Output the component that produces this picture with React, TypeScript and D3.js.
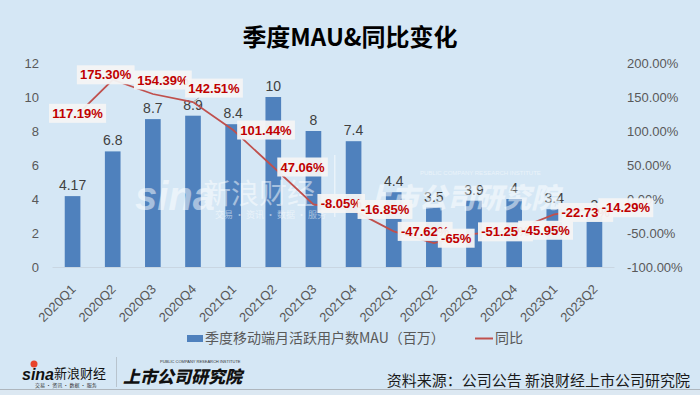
import React, { useEffect, useRef } from "react";
import * as d3 from "d3";

const quarters = [
  "2020Q1", "2020Q2", "2020Q3", "2020Q4",
  "2021Q1", "2021Q2", "2021Q3", "2021Q4",
  "2022Q1", "2022Q2", "2022Q3", "2022Q4",
  "2023Q1", "2023Q2",
];
const mau = [4.17, 6.8, 8.7, 8.9, 8.4, 10, 8, 7.4, 4.4, 3.5, 3.9, 4, 3.4, 3];
const yoy = [117.19, 175.3, 154.39, 142.51, 101.44, 47.06, -8.05, -16.85, -47.62, -65, -51.25, -45.95, -22.73, -14.29];
const leftTicks = [0, 2, 4, 6, 8, 10, 12];
const rightTicks = [-100, -50, 0, 50, 100, 150, 200];
const legendNames = ["季度移动端月活跃用户数MAU（百万）", "同比"];

// where each yoy label box sits: "c" = centred on the point, "r" = right of it; then dx, dy
const yoyLabelPos: [string, number, number][] = [
  ["c", 5, -6], ["c", -7, -5], ["c", 10, -14], ["c", 21, -14],
  ["r", 0, 0], ["r", 0, 0], ["r", 0, -1], ["r", 0, -1],
  ["r", 0, 0], ["r", 0, -5], ["r", 0, -2], ["r", 0, 0],
  ["r", 0, -2], ["r", 0, -1],
];

const W = 700, H = 395;
const numFont = "'Liberation Sans', Arial, sans-serif";
const cjkFont = "'Noto Sans CJK SC', 'Noto Sans', sans-serif";

export default function App() {
  const ref = useRef<SVGSVGElement>(null);

  useEffect(() => {
    const svg = d3.select(ref.current);
    svg.selectAll("*").remove();

    svg.append("rect").attr("width", W).attr("height", H).attr("fill", "#D5E7F5");

    // title
    svg.append("text")
      .attr("x", 350).attr("y", 46)
      .attr("text-anchor", "middle")
      .style("font-family", cjkFont).style("font-weight", 700).style("font-size", "24px")
      .attr("fill", "#000")
      .text("季度MAU&同比变化");

    const x = d3.scaleBand<string>().domain(quarters).range([52.5, 614.5]).paddingInner(0.61).paddingOuter(0.305);
    const yL = d3.scaleLinear().domain([0, 12]).range([267, 63]);
    const yR = d3.scaleLinear().domain([-100, 200]).range([267, 63]);
    const cx = (q: string) => (x(q) as number) + x.bandwidth() / 2;

    // left axis
    svg.append("g").selectAll("text").data(leftTicks).join("text")
      .attr("x", 39).attr("y", (d) => yL(d)).attr("dy", "0.35em")
      .attr("text-anchor", "end")
      .style("font-family", numFont).style("font-size", "13px").attr("fill", "#595959")
      .text((d) => d);

    // right axis
    svg.append("g").selectAll("text").data(rightTicks).join("text")
      .attr("x", 627).attr("y", (d) => yR(d)).attr("dy", "0.35em")
      .style("font-family", numFont).style("font-size", "13px").attr("fill", "#595959")
      .text((d) => d.toFixed(2) + "%");

    svg.append("line")
      .attr("x1", 52.5).attr("x2", 614.5).attr("y1", 267.5).attr("y2", 267.5)
      .attr("stroke", "#C9D6E2");

    // bars
    svg.append("g").selectAll("rect").data(mau).join("rect")
      .attr("x", (d, i) => x(quarters[i]) as number)
      .attr("y", (d) => yL(d))
      .attr("width", x.bandwidth())
      .attr("height", (d) => yL(0) - yL(d))
      .attr("fill", "#4F81BD");

    svg.append("g").selectAll("text").data(mau).join("text")
      .attr("x", (d, i) => cx(quarters[i]))
      .attr("y", (d) => yL(d) - 6)
      .attr("text-anchor", "middle")
      .style("font-family", numFont).style("font-size", "14px").attr("fill", "#404040")
      .text((d) => d);

    // category labels
    svg.append("g").selectAll("text").data(quarters).join("text")
      .attr("transform", (d) => `translate(${cx(d) + 4},290) rotate(-45)`)
      .attr("text-anchor", "end")
      .style("font-family", numFont).style("font-size", "13px").attr("fill", "#595959")
      .text((d) => d);

    // watermark
    const wm = svg.append("g").attr("fill", "#fff").attr("opacity", 0.5);
    wm.append("text").attr("x", 135).attr("y", 210)
      .style("font-family", numFont).style("font-weight", 700).style("font-style", "italic").style("font-size", "40px")
      .text("sina");
    wm.append("text").attr("x", 203).attr("y", 204)
      .style("font-family", cjkFont).style("font-size", "28px").text("新浪财经");
    wm.append("text").attr("x", 215).attr("y", 218)
      .style("font-family", cjkFont).style("font-size", "9px").text("交易 · 资讯 · 数据 · 服务");
    wm.append("rect").attr("x", 334).attr("y", 155).attr("width", 1.5).attr("height", 62);
    wm.append("text").attr("x", 363).attr("y", 208)
      .style("font-family", cjkFont).style("font-weight", 900).style("font-style", "italic").style("font-size", "28px")
      .text("上市公司研究院");
    wm.append("text").attr("x", 420).attr("y", 175)
      .style("font-family", numFont).style("font-size", "6px").text("PUBLIC COMPANY RESEARCH INSTITUTE");

    // yoy line
    const line = d3.line<number>().x((d, i) => cx(quarters[i])).y((d) => yR(d));
    svg.append("path").datum(yoy)
      .attr("d", line)
      .attr("fill", "none").attr("stroke", "#C0504D").attr("stroke-width", 1.75);

    // yoy labels
    const lab = svg.append("g");
    yoy.forEach((v, i) => {
      const px = cx(quarters[i]);
      const py = yR(v);
      const g = lab.append("g");
      const t = g.append("text")
        .attr("text-anchor", "middle").attr("dy", "0.35em")
        .style("font-family", numFont).style("font-weight", 700).style("font-size", "13px")
        .attr("fill", "#C00000")
        .text((Number.isInteger(v) ? String(v) : v.toFixed(2)) + "%");
      const w = (t.node() as SVGTextElement).getBBox().width + 6;
      const [mode, dx, dy] = yoyLabelPos[i];
      const mx = mode === "c" ? px + dx : px + 4 + w / 2 + dx;
      const my = py + dy;
      t.attr("x", mx).attr("y", my);
      g.insert("rect", "text")
        .attr("x", mx - w / 2).attr("y", my - 9.5)
        .attr("width", w).attr("height", 19)
        .attr("fill", "#F4F4F4").attr("opacity", 0.95);
      if (i === 3) {
        g.insert("line", "rect")
          .attr("x1", px).attr("y1", py)
          .attr("x2", mx - w / 2 + 14).attr("y2", my + 9.5)
          .attr("stroke", "#A6A6A6");
      }
    });

    // legend
    const lg = svg.append("g").style("font-family", cjkFont).style("font-size", "14px").attr("fill", "#595959");
    lg.append("rect").attr("x", 187).attr("y", 335).attr("width", 16).attr("height", 7).attr("fill", "#4F81BD");
    lg.append("text").attr("x", 205).attr("y", 343).text(legendNames[0]);
    lg.append("line").attr("x1", 475).attr("x2", 493).attr("y1", 338.5).attr("y2", 338.5)
      .attr("stroke", "#C0504D").attr("stroke-width", 2);
    lg.append("text").attr("x", 495).attr("y", 343).text(legendNames[1]);

    // footer
    const ft = svg.append("g");
    ft.append("circle").attr("cx", 34).attr("cy", 364).attr("r", 3.5).attr("fill", "#E8442C");
    ft.append("text").attr("x", 22).attr("y", 380)
      .style("font-family", numFont).style("font-weight", 700).style("font-style", "italic").style("font-size", "16px")
      .attr("fill", "#111").text("sina");
    ft.append("text").attr("x", 54).attr("y", 378)
      .style("font-family", cjkFont).style("font-size", "13px").attr("fill", "#111").text("新浪财经");
    ft.append("text").attr("x", 35).attr("y", 387)
      .style("font-family", cjkFont).style("font-size", "5px").attr("fill", "#333").text("交易 · 资讯 · 数据 · 服务");
    ft.append("line").attr("x1", 116.5).attr("x2", 116.5).attr("y1", 357).attr("y2", 387).attr("stroke", "#B8C4CE");
    ft.append("text").attr("x", 160).attr("y", 363)
      .style("font-family", numFont).style("font-size", "4px").attr("fill", "#333").text("PUBLIC COMPANY RESEARCH INSTITUTE");
    ft.append("text").attr("x", 123).attr("y", 383)
      .style("font-family", cjkFont).style("font-weight", 900).style("font-style", "italic").style("font-size", "17px")
      .attr("fill", "#111").text("上市公司研究院");
    ft.append("text").attr("x", 690).attr("y", 386).attr("text-anchor", "end")
      .style("font-family", cjkFont).style("font-size", "15px").attr("fill", "#1a1a1a")
      .text("资料来源：公司公告 新浪财经上市公司研究院");
    ft.append("line").attr("x1", 0).attr("x2", W).attr("y1", 389.5).attr("y2", 389.5).attr("stroke", "#AEB6BD");
    ft.append("rect").attr("x", 0).attr("y", 390).attr("width", W).attr("height", 5).attr("fill", "#DCE8F2");
  }, []);

  return (
    <div style={{ position: "absolute", left: 0, top: 0 }}>
      <svg ref={ref} width={W} height={H} style={{ display: "block" }} />
    </div>
  );
}
